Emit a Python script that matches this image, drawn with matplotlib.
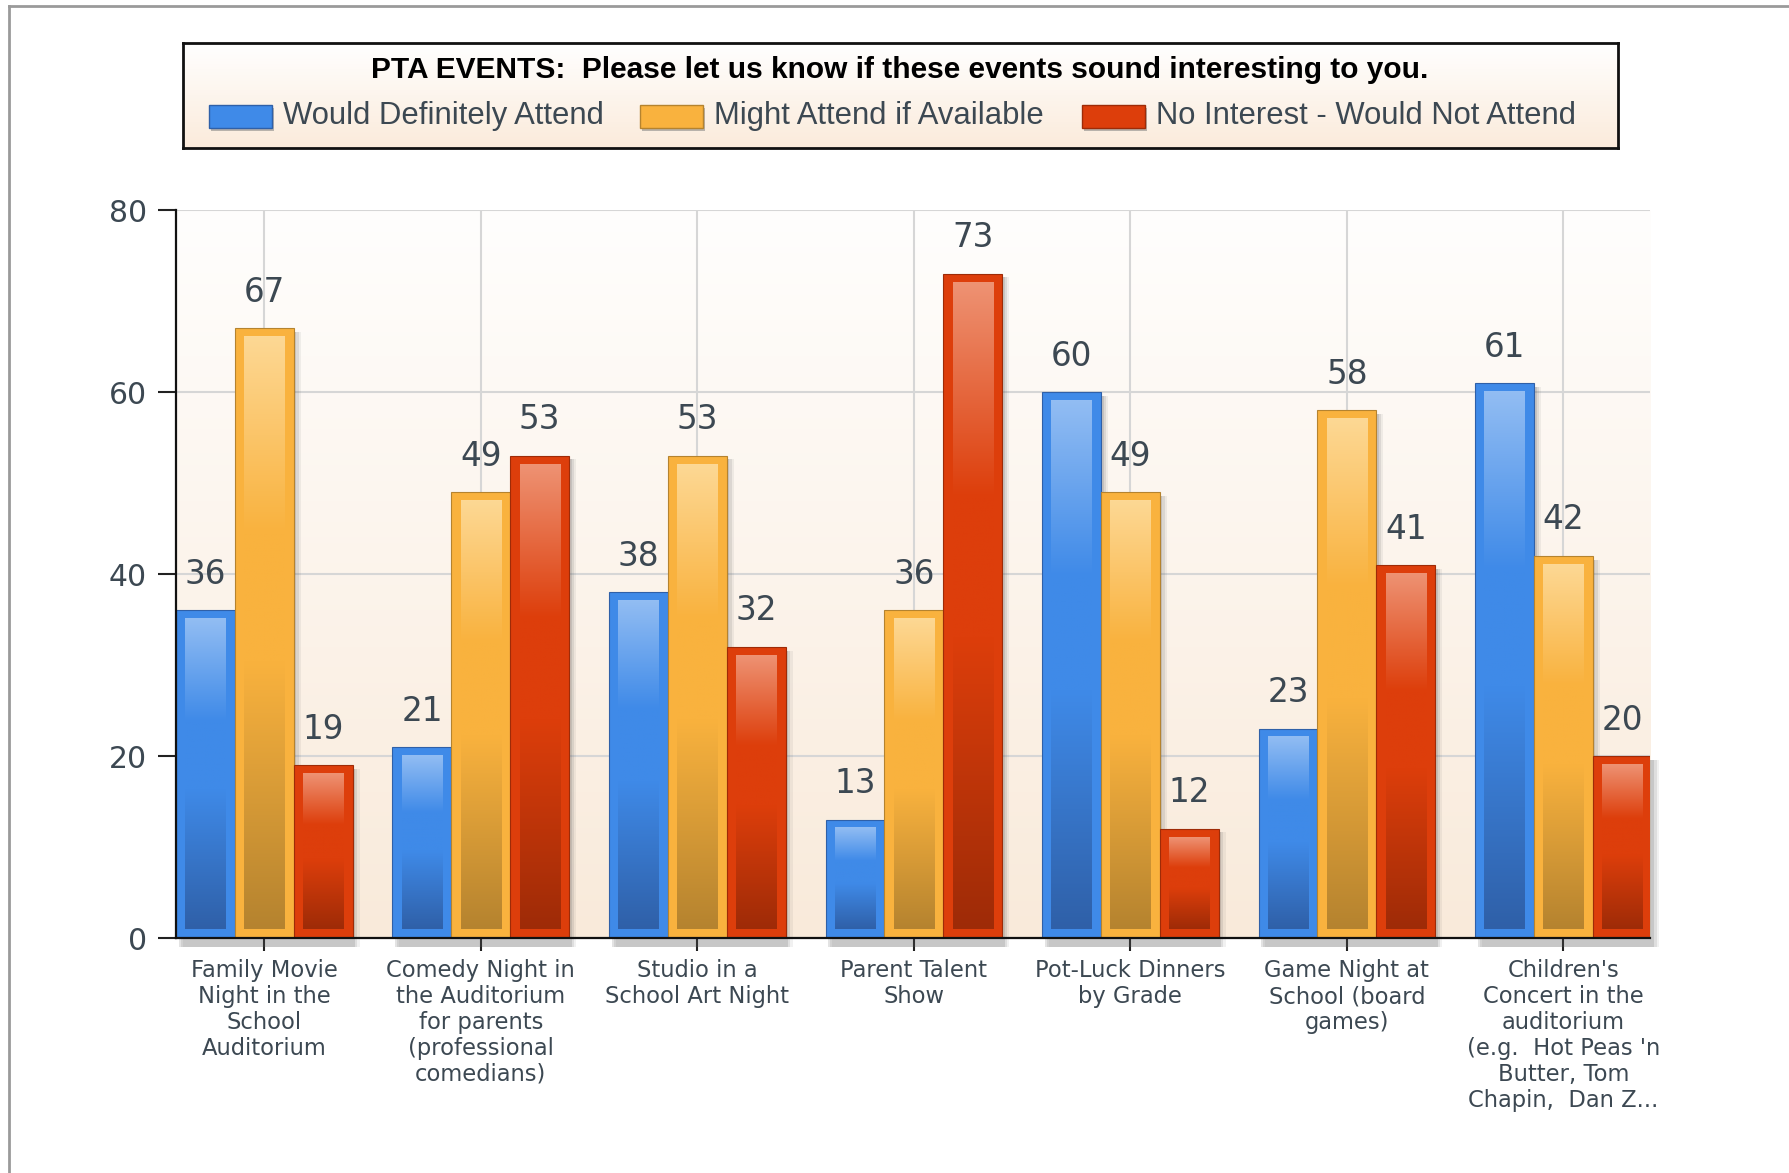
import matplotlib.pyplot as plt
import numpy as np
from matplotlib.patches import Rectangle
from matplotlib.lines import Line2D
from matplotlib.colors import to_rgb

#=========================================================================================
# Data
#=========================================================================================
CATEGORIES = ["Family Movie\nNight in the\nSchool\nAuditorium",
              "Comedy Night in\nthe Auditorium\nfor parents\n(professional\ncomedians)",
              "Studio in a\nSchool Art Night",
              "Parent Talent\nShow",
              "Pot-Luck Dinners\nby Grade",
              "Game Night at\nSchool (board\ngames)",
              "Children's\nConcert in the\nauditorium\n(e.g.  Hot Peas 'n\nButter, Tom\nChapin,  Dan Z..."]
SERIES = ["Would Definitely Attend", "Might Attend if Available", "No Interest - Would Not Attend"]
DEFINITELY = [36, 21, 38, 13, 60, 23, 61]
MIGHT = [67, 49, 53, 36, 49, 58, 42]
NO_INTEREST = [19, 53, 32, 73, 12, 41, 20]
Y_TICKS = [0, 20, 40, 60, 80]
TITLE = "PTA EVENTS:  Please let us know if these events sound interesting to you."

# (light top, base, dark bottom) for each series
COLORS = [("#92bdf3", "#3f8ae8", "#2f60a8"),
          ("#fdd894", "#f9b23e", "#b5832f"),
          ("#ee9273", "#dd3e0b", "#9e2b07")]
TEXT_COLOR = "#3c4852"

plt.rcParams['font.family'] = ['DejaVu Sans']


def bar_gradient(light, base, dark, n=256):
    # light -> base over the top third, flat, then base -> dark towards the bottom
    t = np.linspace(0, 1, n)
    l, b, d = np.array(to_rgb(light)), np.array(to_rgb(base)), np.array(to_rgb(dark))
    out = np.zeros((n, 1, 3))
    for i, v in enumerate(t):
        if v < 0.33:
            out[i, 0] = l + (b - l) * (v / 0.33)
        elif v < 0.55:
            out[i, 0] = b
        else:
            out[i, 0] = b + (d - b) * ((v - 0.55) / 0.45)
    return out


fig = plt.figure(figsize=(17.9, 11.73), dpi=100)
ax = fig.add_axes([0.0983, 0.2003, 0.8235, 0.6206])

x = np.arange(len(CATEGORIES))
w = 0.272
XLIM = (-0.408, 6.4)
YLIM = (0, 80)

# plot background gradient
bg = np.linspace(0, 1, 256)[:, None, None] * (np.array(to_rgb("#f9eada")) - np.array(to_rgb("#fffefd"))) \
     + np.array(to_rgb("#fffefd"))
ax.imshow(bg, extent=[XLIM[0], XLIM[1], YLIM[0], YLIM[1]], aspect='auto', zorder=0)

#=========================================================================================
# Bars
#=========================================================================================
all_vals = [DEFINITELY, MIGHT, NO_INTEREST]
for k, vals in enumerate(all_vals):
    xpos = x + (k - 1) * w
    light, base, dark = COLORS[k]
    # soft shadow
    for s, a in [(0.012, 0.16), (0.022, 0.12), (0.032, 0.08)]:
        ax.bar(xpos + s, np.array(vals) + 0.6, width=w, bottom=-1.0, color="#555555",
               alpha=a, lw=0, zorder=1.5, clip_on=False)
    bars = ax.bar(xpos, vals, width=w, color=base, edgecolor=dark, lw=0.8, zorder=2)
    grad = bar_gradient(light, base, dark)
    for rect, v in zip(bars, vals):
        x0 = rect.get_x()
        ax.imshow(grad, extent=[x0 + 0.043, x0 + w - 0.04, 1.0, v - 0.9],
                  aspect='auto', zorder=3)
        ax.annotate(str(v), (x0 + w / 2, v), xytext=(0, 19), textcoords='offset points',
                    ha='center', va='baseline', fontsize=23.5, color=TEXT_COLOR)

ax.set_xlim(XLIM)
ax.set_ylim(YLIM)

ax.set_xticks(x)
ax.set_xticklabels(CATEGORIES, fontsize=16.3, color=TEXT_COLOR, linespacing=1.16)
ax.set_yticks(Y_TICKS)
ax.set_yticklabels([str(t) for t in Y_TICKS], fontsize=21.5, color=TEXT_COLOR)
ax.tick_params(axis='x', length=9.4, width=1.5, pad=6, colors="#222222", labelcolor=TEXT_COLOR)
ax.tick_params(axis='y', length=13, width=1.5, pad=8, colors="#222222", labelcolor=TEXT_COLOR)

ax.grid(True, color="#d6d6d6", lw=1.5, zorder=0.5)
ax.set_axisbelow(True)
for side in ["top", "right"]:
    ax.spines[side].set_visible(False)
for side in ["left", "bottom"]:
    ax.spines[side].set_linewidth(1.6)
    ax.spines[side].set_color("#111111")
    ax.spines[side].set_zorder(4)

#=========================================================================================
# Legend box at the top (drawn in pixel units of the box)
#=========================================================================================
lax = fig.add_axes([0.1022, 0.8738, 0.8017, 0.0895])
lbg = np.linspace(0, 1, 128)[:, None, None] * (np.array(to_rgb("#fbebdb")) - np.array(to_rgb("#ffffff"))) \
      + np.array(to_rgb("#ffffff"))
lax.imshow(lbg, extent=[0, 1435, 105, 0], aspect='auto', zorder=0)
lax.set_xlim(0, 1435)
lax.set_ylim(105, 0)
lax.set_xticks([])
lax.set_yticks([])
for sp in lax.spines.values():
    sp.set_linewidth(2)
    sp.set_color("#111111")

lax.text(717, 27, TITLE, ha='center', va='center', fontsize=21.5, fontweight='bold',
         color="black", family=['Liberation Sans', 'DejaVu Sans'])
swatch_x = [26, 457, 899]
for k, name in enumerate(SERIES):
    sx = swatch_x[k]
    lax.add_patch(Rectangle((sx + 2, 65), 63, 23, color="#777777", alpha=0.5, lw=0, zorder=1))
    lax.add_patch(Rectangle((sx, 62), 63, 23, facecolor=COLORS[k][1], edgecolor=COLORS[k][2],
                            lw=1, zorder=2))
    lax.text(sx + 74, 73, name, ha='left', va='center', fontsize=22.3, color=TEXT_COLOR,
             family=['Liberation Sans', 'DejaVu Sans'])

# gray frame lines on the left and top of the screenshot
fig.add_artist(Line2D([9 / 1790, 9 / 1790], [0, 1 - 6 / 1173], color="#9a9a9a", lw=2))
fig.add_artist(Line2D([9 / 1790, 1], [1 - 6 / 1173, 1 - 6 / 1173], color="#9a9a9a", lw=2))

plt.savefig("out.png")
